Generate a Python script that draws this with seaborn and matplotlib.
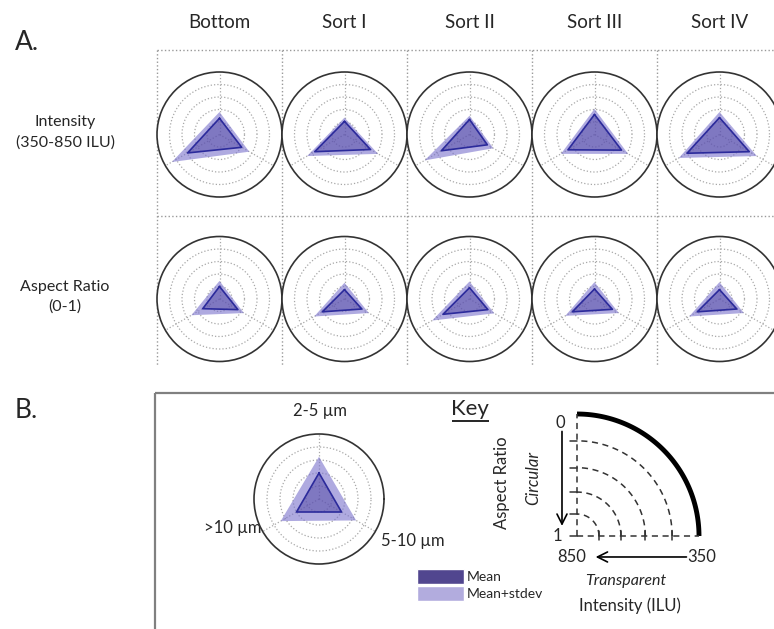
import numpy as np
import seaborn as sns
import matplotlib.pyplot as plt
from matplotlib.patches import Patch

# --- Data (fraction of outer circle radius) ---
columns = ["Bottom", "Sort I", "Sort II", "Sort III", "Sort IV"]
row_labels = ["Intensity\n(350-850 ILU)", "Aspect Ratio\n(0-1)"]
size_labels = ["2-5 \u00b5m", "5-10 \u00b5m", ">10 \u00b5m"]
size_angles = [90, -30, 210]

intensity_mean = [[0.26, 0.41, 0.59], [0.21, 0.48, 0.55], [0.24, 0.33, 0.52],
                  [0.32, 0.50, 0.49], [0.27, 0.55, 0.60]]
intensity_sd = [[0.36, 0.55, 0.88], [0.27, 0.62, 0.69], [0.30, 0.44, 0.83],
                [0.41, 0.62, 0.62], [0.36, 0.69, 0.75]]
aspect_mean = [[0.20, 0.34, 0.31], [0.15, 0.32, 0.41], [0.18, 0.34, 0.49],
               [0.16, 0.33, 0.41], [0.15, 0.32, 0.41]]
aspect_sd = [[0.29, 0.45, 0.52], [0.26, 0.45, 0.56], [0.28, 0.46, 0.69],
             [0.27, 0.45, 0.54], [0.27, 0.45, 0.56]]
key_mean = [0.40, 0.40, 0.40]
key_sd = [0.65, 0.66, 0.68]

key_rings = [0.18, 0.36, 0.56, 0.78]

W, H = 774, 629
SD_COLOR = "#7a72cc"
MEAN_COLOR = "#463b9c"
LINE_COLOR = "#2b2a9b"

sns.set_theme(style="white")
plt.rcParams['font.family'] = ['Lato', 'DejaVu Sans']


def px_rect(cx, cy, r):
    return [(cx - r) / W, 1 - (cy + r) / H, 2 * r / W, 2 * r / H]


def radar(fig, cx, cy, r, mean, sd):
    ax = fig.add_axes(px_rect(cx, cy, r), projection='polar')
    theta = np.deg2rad(size_angles)
    closed = np.append(theta, theta[0] + 2 * np.pi)
    ax.fill(closed, np.append(sd, sd[0]), color=SD_COLOR, alpha=0.6, lw=0)
    ax.fill(closed, np.append(mean, mean[0]), color=MEAN_COLOR, alpha=0.45, lw=0)
    sns.lineplot(x=closed, y=np.append(mean, mean[0]), sort=False,
                 color=LINE_COLOR, lw=1.2, ax=ax)
    ax.set_ylim(0, 1)
    ax.set_rgrids([0.2, 0.4, 0.6, 0.8], labels=[])
    ax.set_thetagrids([90, 210, 330], labels=[])
    ax.grid(True, color='#a8a8a8', ls=':', lw=0.9)
    ax.spines['polar'].set_color('#333333')
    ax.spines['polar'].set_linewidth(1.2)
    ax.set_xlabel('')
    ax.set_ylabel('')
    return ax


fig = plt.figure(figsize=(W / 100, H / 100), dpi=100)

# canvas in pixel coordinates for layout lines and labels
canvas = fig.add_axes([0, 0, 1, 1])
canvas.set_xlim(0, W)
canvas.set_ylim(H, 0)
canvas.axis('off')

col_x = [219.5 + 125 * i for i in range(len(columns))]
row_y = [134.5, 299]

# Panel A grid
canvas.hlines([50, 216], 157, W, colors='#999999', linestyles=':', lw=1)
canvas.vlines([157 + 125 * i for i in range(len(columns))], 50, 366,
              colors='#999999', linestyles=':', lw=1)
canvas.text(15, 42, "A.", fontsize=19, va='center', ha='left')
for x, name in zip(col_x, columns):
    canvas.text(x, 22, name, fontsize=13.5, ha='center', va='center')
for y, name in zip(row_y, row_labels):
    canvas.text(65, y - 2, name, fontsize=11.5, ha='center', va='center',
                linespacing=1.5)

for i in range(len(columns)):
    radar(fig, col_x[i], row_y[0], 62.5, intensity_mean[i], intensity_sd[i])
    radar(fig, col_x[i], row_y[1], 62.5, aspect_mean[i], aspect_sd[i])

# Panel B frame
canvas.hlines(393, 155, W, colors='#808080', lw=1.6)
canvas.vlines(155, 393, H, colors='#808080', lw=1.6)
canvas.text(15, 410, "B.", fontsize=19, va='center', ha='left')

# Key radar
radar(fig, 319, 499, 65, key_mean, key_sd)
canvas.text(320, 411, size_labels[0], fontsize=12, ha='center', va='center')
canvas.text(413, 541, size_labels[1], fontsize=12, ha='center', va='center')
canvas.text(233, 528, size_labels[2], fontsize=12, ha='center', va='center')

canvas.text(470, 409, "Key", fontsize=16, ha='center', va='center')
canvas.hlines(421, 452, 489, colors='black', lw=1.2)

handles = [Patch(facecolor='#51468f', edgecolor='white'),
           Patch(facecolor='#b2acde', edgecolor='white')]
fig.legend(handles, ["Mean", "Mean+stdev"], loc='upper left',
           bbox_to_anchor=(417 / W, 1 - 569 / H), frameon=False, fontsize=10,
           handlelength=3.4, handleheight=1.3, labelspacing=0.1,
           handletextpad=0.15, borderpad=0, borderaxespad=0)

# Quarter-circle diagram (1 unit = 122 px, corner at pixel 577, 536)
qa = fig.add_axes([540 / W, 1 - 565 / H, 180 / W, 160 / H])
qa.set_xlim(-37 / 122, 143 / 122)
qa.set_ylim(-29 / 122, 131 / 122)
qa.axis('off')
t = np.linspace(0, np.pi / 2, 100)
qa.plot(np.cos(t), np.sin(t), color='black', lw=3.5, solid_capstyle='butt')
for r in key_rings:
    qa.plot(r * np.cos(t), r * np.sin(t), color='#333333', lw=1.1,
            ls=(0, (4, 3)))
    qa.plot([-0.06, 0], [r, r], color='#333333', lw=1.1)
    qa.plot([r, r], [-0.03, 0.04], color='#333333', lw=1.1)
qa.plot([0, 0], [0, 1], color='#333333', lw=1.1, ls=(0, (4, 3)))
qa.plot([0, 1], [0, 0], color='#333333', lw=1.1, ls=(0, (4, 3)))
qa.plot([-0.06, 0], [0, 0], color='#333333', lw=1.1)
qa.annotate("", xy=(-0.123, 0.06), xytext=(-0.123, 0.88),
            arrowprops=dict(arrowstyle='->', lw=1.2, color='black',
                            mutation_scale=18))
qa.annotate("", xy=(0.13, -0.172), xytext=(0.92, -0.172),
            arrowprops=dict(arrowstyle='->', lw=1.2, color='black',
                            mutation_scale=18))
qa.text(-0.14, 0.93, "0", fontsize=12, ha='center', va='center')
qa.text(-0.16, 0.0, "1", fontsize=12, ha='center', va='center')
qa.text(-0.04, -0.172, "850", fontsize=12, ha='center', va='center')
qa.text(1.02, -0.172, "350", fontsize=12, ha='center', va='center')

canvas.text(502, 483, "Aspect Ratio", fontsize=12, rotation=90,
            ha='center', va='center')
canvas.text(533, 478, "Circular", fontsize=12, rotation=90, style='italic',
            ha='center', va='center')
canvas.text(626, 581, "Transparent", fontsize=11.5, style='italic',
            ha='center', va='center')
canvas.text(630, 606, "Intensity (ILU)", fontsize=12, ha='center', va='center')

fig.savefig("out.png", dpi=100)
